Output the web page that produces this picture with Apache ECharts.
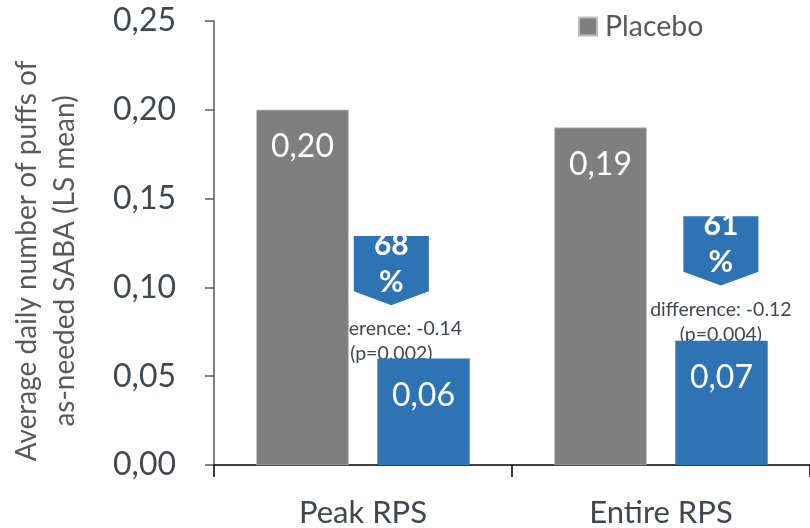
<!DOCTYPE html>
<html>
<head>
<meta charset="utf-8">
<script src="https://cdn.jsdelivr.net/npm/echarts@6/dist/echarts.min.js"></script>
<style>
  html, body { margin: 0; padding: 0; background: #fff; }
  #chart { width: 810px; height: 528px; }
</style>
</head>
<body>
<div id="chart"></div>
<script>
// Daily as-needed SABA puffs (LS mean) by period
const categories = ['Peak RPS', 'Entire RPS'];
const placebo = [0.20, 0.19];
const treatment = [0.06, 0.07];
const reductionPct = [68, 61];
const differences = ['-0.14', '-0.12'];
const pValues = ['0.002', '0.004'];
const yTicks = { min: 0, max: 0.25, step: 0.05 };

// Placement of the reduction arrows (axis units / fraction of a category band)
const arrowTop = [0.129, 0.140];
const arrowTip = [0.090, 0.101];
const arrowShift = [0.095, 0.201];

const FONT = 'Lato, "Open Sans", sans-serif';
const TEXT = '#3f4852';
const GREY = '#7f7f7f';
const BLUE = '#2e74b5';

const fmt = v => Number(v).toFixed(2).replace('.', ',');

const chart = echarts.init(document.getElementById('chart'));

chart.setOption({
  animation: false,
  textStyle: { fontFamily: FONT },
  grid: { left: 211, right: -3, top: 21, bottom: 63, containLabel: false },
  legend: {
    data: ['Placebo'],
    left: 578, top: 12, padding: 0,
    icon: 'rect', itemWidth: 18, itemHeight: 18,
    textStyle: { fontSize: 28.5, color: '#595959', fontFamily: FONT, padding: [0, 0, 0, 3] }
  },
  xAxis: {
    type: 'category',
    data: categories,
    axisLine: { lineStyle: { color: '#000', width: 1.5 } },
    axisTick: { show: true, length: 12, lineStyle: { color: '#000', width: 1.5 } },
    axisLabel: { fontSize: 31, color: TEXT, margin: 32, fontFamily: FONT }
  },
  yAxis: {
    type: 'value',
    min: yTicks.min, max: yTicks.max, interval: yTicks.step,
    name: 'Average daily number of puffs of\nas-needed SABA (LS mean)',
    nameLocation: 'middle',
    nameGap: 130,
    nameRotate: 90,
    nameTextStyle: { fontSize: 28, color: '#595959', lineHeight: 38, fontFamily: FONT, padding: [0, 36, 0, 0] },
    splitLine: { show: false },
    axisLine: { show: true, lineStyle: { color: '#595959', width: 1.5 } },
    axisTick: { show: true, length: 9, lineStyle: { color: '#595959', width: 1.5 } },
    axisLabel: { fontSize: 32, color: TEXT, margin: 38, formatter: fmt, fontFamily: FONT }
  },
  series: [
    {
      name: 'Placebo',
      type: 'bar',
      data: placebo,
      barWidth: '31%',
      barGap: '31%',
      z: 2,
      itemStyle: { color: GREY, borderColor: '#bdbdbd', borderWidth: 0.6 },
      label: {
        show: true, position: 'insideTop', distance: 21,
        color: '#fff', fontSize: 32, fontFamily: FONT,
        formatter: p => fmt(p.value)
      }
    },
    {
      name: 'Treatment',
      type: 'bar',
      data: treatment,
      barWidth: '31%',
      z: 2,
      itemStyle: { color: BLUE },
      label: {
        show: true, position: 'insideTop', distance: 21,
        color: '#fff', fontSize: 32, fontFamily: FONT,
        formatter: p => fmt(p.value)
      }
    },
    {
      name: 'Reduction',
      type: 'custom',
      z: 1,
      clip: false,
      silent: true,
      data: categories.map((c, i) => [i, arrowTop[i]]),
      encode: { x: 0, y: 1 },
      renderItem: (params, api) => {
        const i = params.dataIndex;
        const band = api.size([1, 0])[0];
        const cx = api.coord([i, 0])[0] + arrowShift[i] * band;
        const top = api.coord([i, arrowTop[i]])[1];
        const tip = api.coord([i, arrowTip[i]])[1];
        const hw = band * 0.126;
        const shoulder = top + (tip - top) * 0.8;
        return {
          type: 'group',
          children: [
            {
              type: 'polygon',
              shape: { points: [[cx - hw, top], [cx + hw, top], [cx + hw, shoulder], [cx, tip], [cx - hw, shoulder]] },
              style: { fill: BLUE }
            },
            {
              type: 'text',
              x: cx, y: top - 9.5,
              style: {
                text: reductionPct[i] + '\n%',
                fill: '#fff', align: 'center', verticalAlign: 'top',
                font: 'bold 30px ' + FONT, lineHeight: 37
              }
            },
            {
              type: 'text',
              x: cx, y: tip + 11.5,
              style: {
                text: 'difference: ' + differences[i] + '\n(p=' + pValues[i] + ')',
                fill: TEXT, align: 'center', verticalAlign: 'top',
                font: '19.5px ' + FONT, lineHeight: 25
              }
            }
          ]
        };
      }
    }
  ]
});
</script>
</body>
</html>
